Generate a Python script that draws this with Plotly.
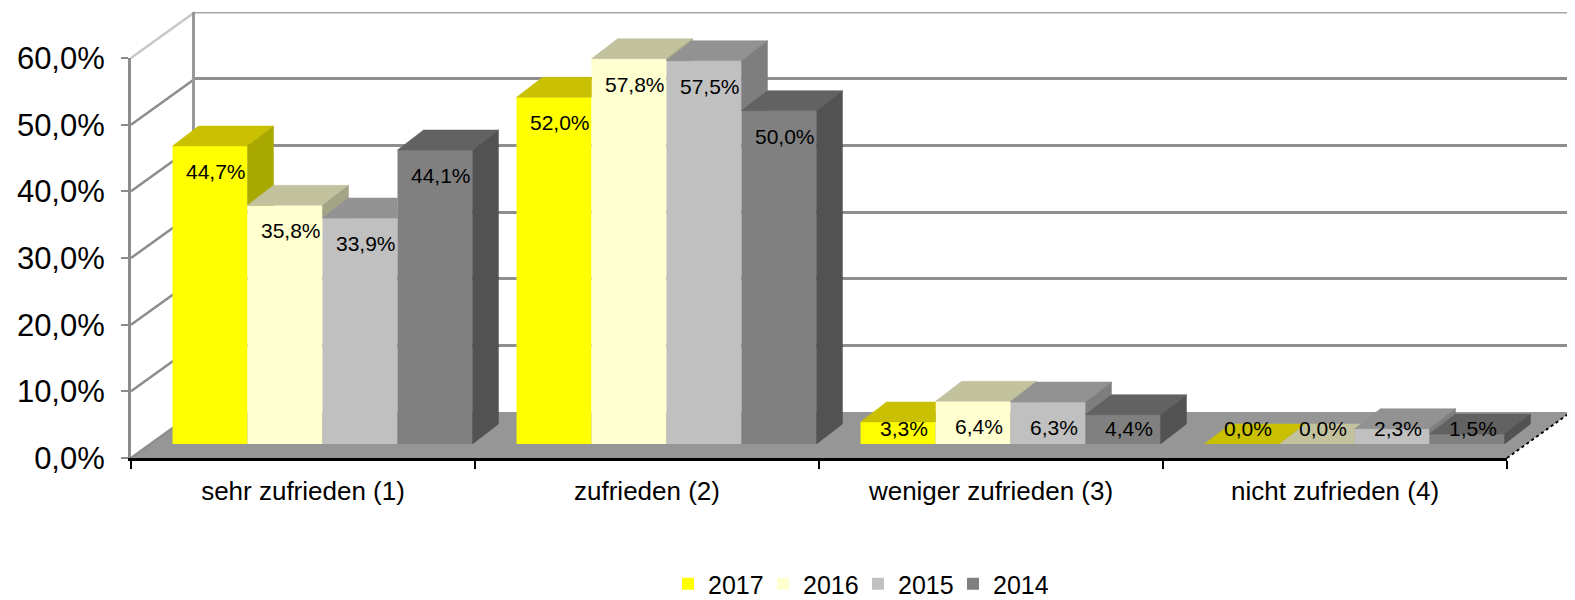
import plotly.graph_objects as go

# ---------------- data ----------------
categories = ["sehr zufrieden (1)", "zufrieden (2)", "weniger zufrieden (3)", "nicht zufrieden (4)"]
years = ["2017", "2016", "2015", "2014"]
v2017 = [44.7, 52.0, 3.3, 0.0]
v2016 = [35.8, 57.8, 6.4, 0.0]
v2015 = [33.9, 57.5, 6.3, 2.3]
v2014 = [44.1, 50.0, 4.4, 1.5]
series = [v2017, v2016, v2015, v2014]
y_tickvals = [0, 10, 20, 30, 40, 50, 60]
y_ticktext = ["0,0%", "10,0%", "20,0%", "30,0%", "40,0%", "50,0%", "60,0%"]

front_colors = ["#FFFF00", "#FFFFD0", "#C0C0C0", "#808080"]
top_colors = ["#C8C000", "#C2C29E", "#929292", "#626262"]
side_colors = ["#A8A800", "#A3A386", "#7E7E7E", "#525252"]

# ---------------- layout geometry (screen pixels) ----------------
OFF = 8                                # default body margin of the html page
W, H = 1575 - OFF, 600 - OFF
SCR_L, SCR_T, SCR_R, SCR_B = 131, 12, 1571, 458   # plot area on screen
ML, MT = SCR_L - OFF, SCR_T - OFF
PW, PH = SCR_R - SCR_L, SCR_B - SCR_T
MR, MB = W - ML - PW, H - MT - PH
FRONT_W, FRONT_H = 1376, 400          # front plane: 4 categories, 0..60 %
YMAX = 60
WALL_DX, WALL_DY = 64, 46             # depth of floor / back wall
BAR_DX, BAR_DY = 19.5, 14             # front plane of the bars
DEPTH_DX, DEPTH_DY = 26, 20           # depth of each bar
BARGAP = 0.128
FONT = "Liberation Sans, Arial, sans-serif"

n = len(categories)
cat_px = FRONT_W / n
pct_px = FRONT_H / YMAX
dxu = DEPTH_DX / cat_px
dyu = DEPTH_DY / pct_px
extra = 0.1
y2max = (PH - BAR_DY) / pct_px
nser = len(series)
bw = (1 - BARGAP) / nser


def scr_to_paper(sx, sy):
    return (sx - SCR_L) / PW, (SCR_B - sy) / PH


def clip(poly, f):
    out = []
    m = len(poly)
    for i in range(m):
        p, q = poly[i], poly[(i + 1) % m]
        fp, fq = f(p), f(q)
        if fp >= 0:
            out.append(p)
        if (fp >= 0) != (fq >= 0):
            t = fp / (fp - fq)
            out.append((p[0] + t * (q[0] - p[0]), p[1] + t * (q[1] - p[1])))
    return out


fig = go.Figure()

# dummy trace so the back-wall subplot exists
fig.add_trace(go.Scatter(x=[0], y=[None], xaxis="x", yaxis="y", showlegend=False, hoverinfo="skip"))

# front faces: real bars
for k, (yr, vals) in enumerate(zip(years, series)):
    fig.add_trace(go.Bar(
        x=list(range(n)), y=vals, name=yr, xaxis="x2", yaxis="y2",
        marker=dict(color=front_colors[k], line=dict(width=0)),
        hoverinfo="skip",
    ))

# top and side faces (painter's order, left to right)
for k, vals in enumerate(series):
    tx, ty, sx, sy = [], [], [], []
    for c in range(n):
        h = vals[c]
        xl = c - (1 - BARGAP) / 2 + k * bw
        xr = xl + bw
        h1 = series[k + 1][c] if k + 1 < nser else None
        top = [(xl, h), (xr, h), (xr + dxu, h + dyu), (xl + dxu, h + dyu)]
        side = [(xr, 0), (xr + dxu, dyu), (xr + dxu, h + dyu), (xr, h)]
        tops = [top]
        if h1 is not None and h1 > h:
            a = clip(top, lambda p, xr=xr: xr - p[0])
            b = clip(clip(top, lambda p, xr=xr: p[0] - xr), lambda p, h1=h1: p[1] - h1)
            tops = [a, b]
        sides = [side]
        if h1 is not None and h1 > 0:
            sides = [clip(side, lambda p, h1=h1: p[1] - h1)]
        for poly in tops:
            if len(poly) >= 3:
                tx += [p[0] for p in poly] + [poly[0][0], None]
                ty += [p[1] for p in poly] + [poly[0][1], None]
        for poly in sides:
            if len(poly) >= 3:
                sx += [p[0] for p in poly] + [poly[0][0], None]
                sy += [p[1] for p in poly] + [poly[0][1], None]
    fig.add_trace(go.Scatter(x=tx, y=ty, xaxis="x2", yaxis="y2", mode="lines", fill="toself",
                             fillcolor=top_colors[k], line=dict(color=top_colors[k], width=0.5),
                             showlegend=False, hoverinfo="skip"))
    fig.add_trace(go.Scatter(x=sx, y=sy, xaxis="x2", yaxis="y2", mode="lines", fill="toself",
                             fillcolor=side_colors[k], line=dict(color=side_colors[k], width=0.5),
                             showlegend=False, hoverinfo="skip"))

fig.add_trace(go.Scatter(x=categories, y=[None] * n, xaxis="x3", yaxis="y3",
                         showlegend=False, hoverinfo="skip"))

# data labels
annotations = []
for k, vals in enumerate(series):
    for c in range(n):
        v = vals[c]
        xc = c - (1 - BARGAP) / 2 + (k + 0.5) * bw
        annotations.append(dict(
            x=xc, y=max(v - 3.8, 2.4), xref="x2", yref="y2", xshift=6,
            text=f"{v:.1f}%".replace(".", ","), showarrow=False,
            font=dict(family=FONT, size=21, color="black"),
        ))

# floor, side wall lines, back wall top edge, floor right edge
shapes = []
f0 = scr_to_paper(SCR_L, SCR_B)
f1 = scr_to_paper(SCR_L + FRONT_W, SCR_B)
f2 = scr_to_paper(SCR_L + FRONT_W + WALL_DX, SCR_B - WALL_DY)
f3 = scr_to_paper(SCR_L + WALL_DX, SCR_B - WALL_DY)
shapes.append(dict(type="path", xref="paper", yref="paper", layer="below",
                   path=f"M{f0[0]},{f0[1]} L{f1[0]},{f1[1]} L{f2[0]},{f2[1]} L{f3[0]},{f3[1]} Z",
                   fillcolor="#969696", line=dict(width=0)))
for v in y_tickvals:
    py = SCR_B - v * pct_px
    a = scr_to_paper(SCR_L, py)
    b = scr_to_paper(SCR_L + WALL_DX, py - WALL_DY)
    shapes.append(dict(type="line", xref="paper", yref="paper", layer="below",
                       x0=a[0], y0=a[1], x1=b[0], y1=b[1],
                       line=dict(color="#C8C8C8" if v == YMAX else "#8C8C8C", width=2.5)))
shapes.append(dict(type="line", xref="paper", yref="y", layer="below",
                   x0=WALL_DX / PW, x1=1, y0=YMAX, y1=YMAX,
                   line=dict(color="#A8A8A8", width=3)))
shapes.append(dict(type="line", xref="paper", yref="paper", layer="above",
                   x0=f1[0], y0=f1[1], x1=f2[0], y1=f2[1],
                   line=dict(color="black", width=2, dash="dot")))

leg_x, leg_y = scr_to_paper(858, 584)

fig.update_layout(
    width=W, height=H,
    margin=dict(l=ML, r=MR, t=MT, b=MB, autoexpand=False),
    paper_bgcolor="white", plot_bgcolor="rgba(0,0,0,0)",
    barmode="group", bargap=BARGAP, bargroupgap=0,
    showlegend=True,
    legend=dict(orientation="h", x=leg_x, xanchor="center", y=leg_y,
                yanchor="middle", font=dict(family=FONT, size=25, color="black"),
                itemwidth=30, entrywidth=50, traceorder="normal"),
    annotations=annotations,
    shapes=shapes,
    # back wall
    xaxis=dict(domain=[WALL_DX / PW, min(1, (WALL_DX + FRONT_W) / PW)], range=[-0.5, n - 0.5],
               visible=False, anchor="y"),
    yaxis=dict(domain=[WALL_DY / PH, min(1, (WALL_DY + FRONT_H) / PH)], range=[0, YMAX],
               tickvals=y_tickvals[1:], showticklabels=False, ticks="",
               showgrid=True, gridcolor="#8E8E8E", gridwidth=3, zeroline=False,
               showline=True, linecolor="#9A9A9A", linewidth=3, anchor="x"),
    # bars plane
    xaxis2=dict(domain=[BAR_DX / PW, min(1, (BAR_DX + FRONT_W + extra * cat_px) / PW)],
                range=[-0.5, n - 0.5 + extra], visible=False, anchor="y2"),
    yaxis2=dict(domain=[BAR_DY / PH, 1], range=[0, y2max], visible=False, anchor="x2"),
    # front axes
    xaxis3=dict(domain=[0, FRONT_W / PW], type="category", range=[-0.5, n - 0.5],
                tickson="boundaries", ticks="outside", ticklen=8, tickwidth=2, tickcolor="black",
                showline=True, linecolor="black", linewidth=3, showgrid=False, zeroline=False,
                tickfont=dict(family=FONT, size=26, color="black"), ticklabelstandoff=8,
                anchor="y3"),
    yaxis3=dict(domain=[0, FRONT_H / PH], range=[0, YMAX], tickvals=y_tickvals, ticktext=y_ticktext,
                ticks="outside", ticklen=7, tickwidth=2, tickcolor="#8C8C8C",
                showline=True, linecolor="#8C8C8C", linewidth=3, showgrid=False, zeroline=False,
                tickfont=dict(family=FONT, size=31, color="black"), ticklabelstandoff=10,
                anchor="x3"),
)

fig.write_html("out.html")
